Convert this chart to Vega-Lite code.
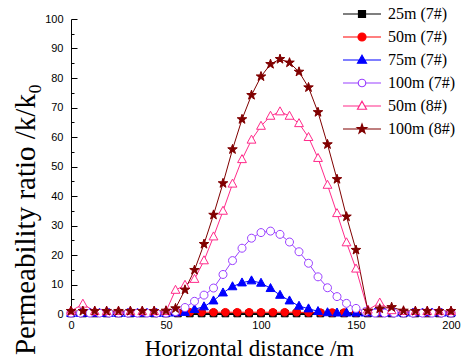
{
"$schema": "https://vega.github.io/schema/vega-lite/v6.json",
"width": 380, "height": 295,
"autosize": {"type": "none"},
"padding": {"left": 71, "top": 19, "right": 10, "bottom": 50},
"background": "white",
"config": {"view": {"stroke": null},
  "axis": {"grid": false, "domainColor": "black", "tickColor": "black", "labelColor": "black", "labelFont": "Liberation Sans", "labelFontSize": 11, "titleColor": "black", "titleFont": "Liberation Serif", "titleFontWeight": "normal", "domainWidth": 1, "tickWidth": 1},
  "legend": {"title": null, "orient": "none", "legendX": 283, "legendY": -13, "padding": 0,
       "labelFont": "Liberation Serif", "labelFontSize": 16, "labelColor": "black", "symbolSize": 100, "labelOffset": 18, "rowPadding": 7, "symbolStrokeWidth": 1.2}},
"datasets": {
 "pts": [
  {"s":"25m (7#)","x":0,"y":0.2},{"s":"25m (7#)","x":6.25,"y":0.2},{"s":"25m (7#)","x":12.5,"y":0.2},{"s":"25m (7#)","x":18.75,"y":0.2},{"s":"25m (7#)","x":25,"y":0.2},{"s":"25m (7#)","x":31.25,"y":0.2},{"s":"25m (7#)","x":37.5,"y":0.2},{"s":"25m (7#)","x":43.75,"y":0.2},{"s":"25m (7#)","x":50,"y":0.2},{"s":"25m (7#)","x":56.25,"y":0.2},{"s":"25m (7#)","x":62.5,"y":0.2},{"s":"25m (7#)","x":68.75,"y":0.2},{"s":"25m (7#)","x":75,"y":0.2},{"s":"25m (7#)","x":81.25,"y":0.2},{"s":"25m (7#)","x":87.5,"y":0.2},{"s":"25m (7#)","x":93.75,"y":0.2},{"s":"25m (7#)","x":100,"y":0.2},{"s":"25m (7#)","x":106.25,"y":0.2},{"s":"25m (7#)","x":112.5,"y":0.2},{"s":"25m (7#)","x":118.75,"y":0.2},{"s":"25m (7#)","x":125,"y":0.2},{"s":"25m (7#)","x":131.25,"y":0.2},{"s":"25m (7#)","x":137.5,"y":0.2},{"s":"25m (7#)","x":143.75,"y":0.2},{"s":"25m (7#)","x":150,"y":0.2},{"s":"25m (7#)","x":156.25,"y":0.2},{"s":"25m (7#)","x":162.5,"y":0.2},{"s":"25m (7#)","x":168.75,"y":0.2},{"s":"25m (7#)","x":175,"y":0.2},{"s":"25m (7#)","x":181.25,"y":0.2},{"s":"25m (7#)","x":187.5,"y":0.2},{"s":"25m (7#)","x":193.75,"y":0.2},{"s":"25m (7#)","x":200,"y":0.2},
  {"s":"50m (7#)","x":0,"y":0.5},{"s":"50m (7#)","x":6.25,"y":0.5},{"s":"50m (7#)","x":12.5,"y":0.5},{"s":"50m (7#)","x":18.75,"y":0.5},{"s":"50m (7#)","x":25,"y":0.5},{"s":"50m (7#)","x":31.25,"y":0.5},{"s":"50m (7#)","x":37.5,"y":0.5},{"s":"50m (7#)","x":43.75,"y":0.5},{"s":"50m (7#)","x":50,"y":0.5},{"s":"50m (7#)","x":56.25,"y":0.5},{"s":"50m (7#)","x":62.5,"y":0.6},{"s":"50m (7#)","x":68.75,"y":0.6},{"s":"50m (7#)","x":75,"y":0.6},{"s":"50m (7#)","x":81.25,"y":0.6},{"s":"50m (7#)","x":87.5,"y":0.6},{"s":"50m (7#)","x":93.75,"y":0.6},{"s":"50m (7#)","x":100,"y":0.6},{"s":"50m (7#)","x":106.25,"y":0.6},{"s":"50m (7#)","x":112.5,"y":0.6},{"s":"50m (7#)","x":118.75,"y":0.6},{"s":"50m (7#)","x":125,"y":0.5},{"s":"50m (7#)","x":131.25,"y":0.5},{"s":"50m (7#)","x":137.5,"y":0.5},{"s":"50m (7#)","x":143.75,"y":0.5},{"s":"50m (7#)","x":150,"y":0.5},{"s":"50m (7#)","x":156.25,"y":0.5},{"s":"50m (7#)","x":162.5,"y":0.5},{"s":"50m (7#)","x":168.75,"y":0.5},{"s":"50m (7#)","x":175,"y":0.5},{"s":"50m (7#)","x":181.25,"y":0.5},{"s":"50m (7#)","x":187.5,"y":0.5},{"s":"50m (7#)","x":193.75,"y":0.5},{"s":"50m (7#)","x":200,"y":0.5},
  {"s":"75m (7#)","x":0,"y":0.3},{"s":"75m (7#)","x":5,"y":0.3},{"s":"75m (7#)","x":10,"y":0.3},{"s":"75m (7#)","x":15,"y":0.3},{"s":"75m (7#)","x":20,"y":0.3},{"s":"75m (7#)","x":25,"y":0.3},{"s":"75m (7#)","x":30,"y":0.3},{"s":"75m (7#)","x":35,"y":0.3},{"s":"75m (7#)","x":40,"y":0.3},{"s":"75m (7#)","x":45,"y":0.3},{"s":"75m (7#)","x":50,"y":0.3},{"s":"75m (7#)","x":55,"y":0.4},{"s":"75m (7#)","x":60,"y":0.6},{"s":"75m (7#)","x":65,"y":1.6},{"s":"75m (7#)","x":70,"y":2.5},{"s":"75m (7#)","x":75,"y":4.5},{"s":"75m (7#)","x":80,"y":7.2},{"s":"75m (7#)","x":85,"y":9.3},{"s":"75m (7#)","x":90,"y":10.6},{"s":"75m (7#)","x":95,"y":11.3},{"s":"75m (7#)","x":100,"y":10.5},{"s":"75m (7#)","x":105,"y":8.7},{"s":"75m (7#)","x":110,"y":6.4},{"s":"75m (7#)","x":115,"y":4.5},{"s":"75m (7#)","x":120,"y":2.7},{"s":"75m (7#)","x":125,"y":1.8},{"s":"75m (7#)","x":130,"y":0.9},{"s":"75m (7#)","x":135,"y":0.5},{"s":"75m (7#)","x":140,"y":0.4},{"s":"75m (7#)","x":145,"y":0.4},{"s":"75m (7#)","x":150,"y":0.4},{"s":"75m (7#)","x":155,"y":0.4},{"s":"75m (7#)","x":160,"y":0.4},{"s":"75m (7#)","x":165,"y":0.4},{"s":"75m (7#)","x":170,"y":0.4},{"s":"75m (7#)","x":175,"y":0.4},{"s":"75m (7#)","x":180,"y":0.4},{"s":"75m (7#)","x":185,"y":0.4},{"s":"75m (7#)","x":190,"y":0.4},{"s":"75m (7#)","x":195,"y":0.4},{"s":"75m (7#)","x":200,"y":0.4},
  {"s":"100m (7#)","x":0,"y":0.3},{"s":"100m (7#)","x":5,"y":0.3},{"s":"100m (7#)","x":10,"y":0.3},{"s":"100m (7#)","x":15,"y":0.3},{"s":"100m (7#)","x":20,"y":0.3},{"s":"100m (7#)","x":25,"y":0.3},{"s":"100m (7#)","x":30,"y":0.3},{"s":"100m (7#)","x":35,"y":0.3},{"s":"100m (7#)","x":40,"y":0.3},{"s":"100m (7#)","x":45,"y":0.3},{"s":"100m (7#)","x":50,"y":0.3},{"s":"100m (7#)","x":55,"y":0.8},{"s":"100m (7#)","x":60,"y":2.2},{"s":"100m (7#)","x":65,"y":4.3},{"s":"100m (7#)","x":70,"y":6.4},{"s":"100m (7#)","x":75,"y":8.8},{"s":"100m (7#)","x":80,"y":13.4},{"s":"100m (7#)","x":85,"y":18.1},{"s":"100m (7#)","x":90,"y":22.3},{"s":"100m (7#)","x":95,"y":25.7},{"s":"100m (7#)","x":100,"y":27.6},{"s":"100m (7#)","x":105,"y":28.1},{"s":"100m (7#)","x":110,"y":27.0},{"s":"100m (7#)","x":115,"y":24.4},{"s":"100m (7#)","x":120,"y":21.1},{"s":"100m (7#)","x":125,"y":17.2},{"s":"100m (7#)","x":130,"y":12.6},{"s":"100m (7#)","x":135,"y":8.9},{"s":"100m (7#)","x":140,"y":5.9},{"s":"100m (7#)","x":145,"y":3.6},{"s":"100m (7#)","x":150,"y":1.9},{"s":"100m (7#)","x":155,"y":0.8},{"s":"100m (7#)","x":160,"y":0.3},{"s":"100m (7#)","x":165,"y":0.3},{"s":"100m (7#)","x":170,"y":0.3},{"s":"100m (7#)","x":175,"y":0.3},{"s":"100m (7#)","x":180,"y":0.3},{"s":"100m (7#)","x":185,"y":0.3},{"s":"100m (7#)","x":190,"y":0.3},{"s":"100m (7#)","x":195,"y":0.3},{"s":"100m (7#)","x":200,"y":0.3},
  {"s":"50m (8#)","x":0,"y":1.0},{"s":"50m (8#)","x":6.25,"y":3.4},{"s":"50m (8#)","x":12.5,"y":0.9},{"s":"50m (8#)","x":18.75,"y":0.9},{"s":"50m (8#)","x":25,"y":0.9},{"s":"50m (8#)","x":31.25,"y":0.9},{"s":"50m (8#)","x":37.5,"y":0.9},{"s":"50m (8#)","x":43.75,"y":0.9},{"s":"50m (8#)","x":50,"y":0.9},{"s":"50m (8#)","x":55,"y":8.1},{"s":"50m (8#)","x":60,"y":9.8},{"s":"50m (8#)","x":65,"y":11.8},{"s":"50m (8#)","x":70,"y":18.1},{"s":"50m (8#)","x":75,"y":26.2},{"s":"50m (8#)","x":80,"y":34.9},{"s":"50m (8#)","x":85,"y":44.1},{"s":"50m (8#)","x":90,"y":52.4},{"s":"50m (8#)","x":95,"y":59.0},{"s":"50m (8#)","x":100,"y":63.7},{"s":"50m (8#)","x":105,"y":67.1},{"s":"50m (8#)","x":110,"y":68.6},{"s":"50m (8#)","x":115,"y":67.1},{"s":"50m (8#)","x":120,"y":64.6},{"s":"50m (8#)","x":125,"y":59.9},{"s":"50m (8#)","x":130,"y":52.8},{"s":"50m (8#)","x":135,"y":43.7},{"s":"50m (8#)","x":140,"y":34.1},{"s":"50m (8#)","x":145,"y":24.2},{"s":"50m (8#)","x":150,"y":15.3},{"s":"50m (8#)","x":156.25,"y":1.4},{"s":"50m (8#)","x":162.5,"y":3.8},{"s":"50m (8#)","x":168.75,"y":1.2},{"s":"50m (8#)","x":175,"y":0.9},{"s":"50m (8#)","x":181.25,"y":0.9},{"s":"50m (8#)","x":187.5,"y":0.9},{"s":"50m (8#)","x":193.75,"y":0.9},{"s":"50m (8#)","x":200,"y":0.9},
  {"s":"100m (8#)","x":0,"y":1.0},{"s":"100m (8#)","x":6.25,"y":1.0},{"s":"100m (8#)","x":12.5,"y":1.0},{"s":"100m (8#)","x":18.75,"y":1.0},{"s":"100m (8#)","x":25,"y":1.0},{"s":"100m (8#)","x":31.25,"y":1.0},{"s":"100m (8#)","x":37.5,"y":1.0},{"s":"100m (8#)","x":43.75,"y":1.0},{"s":"100m (8#)","x":50,"y":1.1},{"s":"100m (8#)","x":55,"y":1.9},{"s":"100m (8#)","x":60,"y":8.2},{"s":"100m (8#)","x":65,"y":14.9},{"s":"100m (8#)","x":70,"y":23.7},{"s":"100m (8#)","x":75,"y":33.6},{"s":"100m (8#)","x":80,"y":44.3},{"s":"100m (8#)","x":85,"y":55.8},{"s":"100m (8#)","x":90,"y":66.0},{"s":"100m (8#)","x":95,"y":74.2},{"s":"100m (8#)","x":100,"y":80.5},{"s":"100m (8#)","x":105,"y":84.7},{"s":"100m (8#)","x":110,"y":86.4},{"s":"100m (8#)","x":115,"y":85.2},{"s":"100m (8#)","x":120,"y":82.1},{"s":"100m (8#)","x":125,"y":76.8},{"s":"100m (8#)","x":130,"y":68.4},{"s":"100m (8#)","x":135,"y":57.5},{"s":"100m (8#)","x":140,"y":45.7},{"s":"100m (8#)","x":145,"y":33.0},{"s":"100m (8#)","x":150,"y":21.7},{"s":"100m (8#)","x":156.25,"y":1.1},{"s":"100m (8#)","x":162.5,"y":1.8},{"s":"100m (8#)","x":168.75,"y":2.3},{"s":"100m (8#)","x":175,"y":1.1},{"s":"100m (8#)","x":181.25,"y":1.0},{"s":"100m (8#)","x":187.5,"y":1.0},{"s":"100m (8#)","x":193.75,"y":1.0},{"s":"100m (8#)","x":200,"y":1.0}
 ]
},
"data": {"name": "pts"},
"encoding": {
  "x": {"field": "x", "type": "quantitative", "scale": {"domain": [0, 200], "nice": false, "zero": false},
    "axis": {"values": [0,25,50,75,100,125,150,175,200], "labelExpr": "datum.value % 50 === 0 ? datum.label : ''",
      "tickSize": {"condition": {"test": "datum.value % 50 === 0", "value": -6}, "value": -3},
      "labelPadding": 11, "labelFlush": false,
      "title": "Horizontal distance /m", "titleFontSize": 23, "titleX": 178, "titleY": 41, "titleBaseline": "alphabetic", "titleAnchor": null}},
  "y": {"field": "y", "type": "quantitative", "scale": {"domain": [0, 100], "nice": false},
    "axis": {"values": [0,5,10,15,20,25,30,35,40,45,50,55,60,65,70,75,80,85,90,95,100], "labelExpr": "datum.value % 10 === 0 ? datum.label : ''",
      "tickSize": {"condition": {"test": "datum.value % 10 === 0", "value": -6}, "value": -3},
      "labelPadding": 14, "labelFlush": false,
      "title": "Permeability ratio /k/k₀", "titleFontSize": 29, "titleX": -37, "titleY": 200, "titleAlign": "center", "titleBaseline": "alphabetic", "titleAngle": -90}}
},
"layer": [
 {"mark": {"type": "line", "strokeWidth": 1},
  "encoding": {
   "stroke": {"field": "s", "type": "nominal",
     "scale": {"domain": ["25m (7#)","50m (7#)","75m (7#)","100m (7#)","50m (8#)","100m (8#)"], "range": ["#000000","#ff0000","#0000ff","#9a40ff","#ff2a8a","#800000"]}},
   "detail": {"field": "s"}
  }},
 {"transform": [{"filter": "false"}],
  "mark": {"type": "point", "opacity": 1, "strokeWidth": 1.2, "filled": true},
  "encoding": {
   "stroke": {"field": "s", "type": "nominal"},
   "fill": {"field": "s", "type": "nominal",
     "scale": {"domain": ["25m (7#)","50m (7#)","75m (7#)","100m (7#)","50m (8#)","100m (8#)"], "range": ["#000000","#ff0000","#0000ff","#ffffff","#ffffff","#800000"]}},
   "shape": {"field": "s", "type": "nominal",
     "scale": {"domain": ["25m (7#)","50m (7#)","75m (7#)","100m (7#)","50m (8#)","100m (8#)"],
       "range": ["M-3.8,0H3.8M-0.7,-0.7H0.7V0.7H-0.7Z","M-3.8,0H3.8M-0.8,0A0.8,0.8 0 1,0 0.8,0A0.8,0.8 0 1,0 -0.8,0Z","M-3.8,0H3.8M0,-0.95L0.9,0.65H-0.9Z","M-3.8,0H-0.75M0.75,0H3.8M-0.75,0A0.75,0.75 0 1,0 0.75,0A0.75,0.75 0 1,0 -0.75,0Z","M-3.8,0H-0.52M0.52,0H3.8M0,-0.95L0.9,0.65H-0.9Z","M-3.8,0H3.8M0,-1L0.235,-0.324L0.951,-0.309L0.38,0.124L0.588,0.809L0,0.4L-0.588,0.809L-0.38,0.124L-0.951,-0.309L-0.235,-0.324Z"]}}
  }},
 {"transform": [{"filter": {"field": "s", "equal": "25m (7#)"}}],
  "mark": {"type": "point", "opacity": 1, "strokeWidth": 1, "size": 64, "filled": true, "fill": "#000000", "stroke": "#000000", "shape": "M-0.85,-0.85H0.85V0.85H-0.85Z"}},
 {"transform": [{"filter": {"field": "s", "equal": "50m (7#)"}}],
  "mark": {"type": "point", "opacity": 1, "strokeWidth": 1, "size": 64, "filled": true, "fill": "#ff0000", "stroke": "#ff0000", "shape": "M-0.95,0A0.95,0.95 0 1,0 0.95,0A0.95,0.95 0 1,0 -0.95,0Z"}},
 {"transform": [{"filter": {"field": "s", "equal": "75m (7#)"}}],
  "mark": {"type": "point", "opacity": 1, "strokeWidth": 1, "size": 64, "filled": true, "fill": "#0000ff", "stroke": "#0000ff", "shape": "M0,-1.2L1.1,0.8H-1.1Z"}},
 {"transform": [{"filter": {"field": "s", "equal": "100m (7#)"}}],
  "mark": {"type": "point", "opacity": 1, "strokeWidth": 1, "size": 64, "filled": true, "fill": "#ffffff", "stroke": "#9a40ff", "shape": "M-1,0A1,1 0 1,0 1,0A1,1 0 1,0 -1,0Z"}},
 {"transform": [{"filter": {"field": "s", "equal": "50m (8#)"}}],
  "mark": {"type": "point", "opacity": 1, "strokeWidth": 1, "size": 64, "filled": true, "fill": "#ffffff", "stroke": "#ff2a8a", "shape": "M0,-1.2L1.1,0.8H-1.1Z"}},
 {"transform": [{"filter": {"field": "s", "equal": "100m (8#)"}}],
  "mark": {"type": "point", "opacity": 1, "strokeWidth": 1, "size": 64, "filled": true, "fill": "#800000", "stroke": "#800000", "shape": "M0,-1.25L0.294,-0.405L1.189,-0.386L0.475,0.155L0.735,1.011L0,0.5L-0.735,1.011L-0.475,0.155L-1.189,-0.386L-0.294,-0.405Z"}}
]
}
